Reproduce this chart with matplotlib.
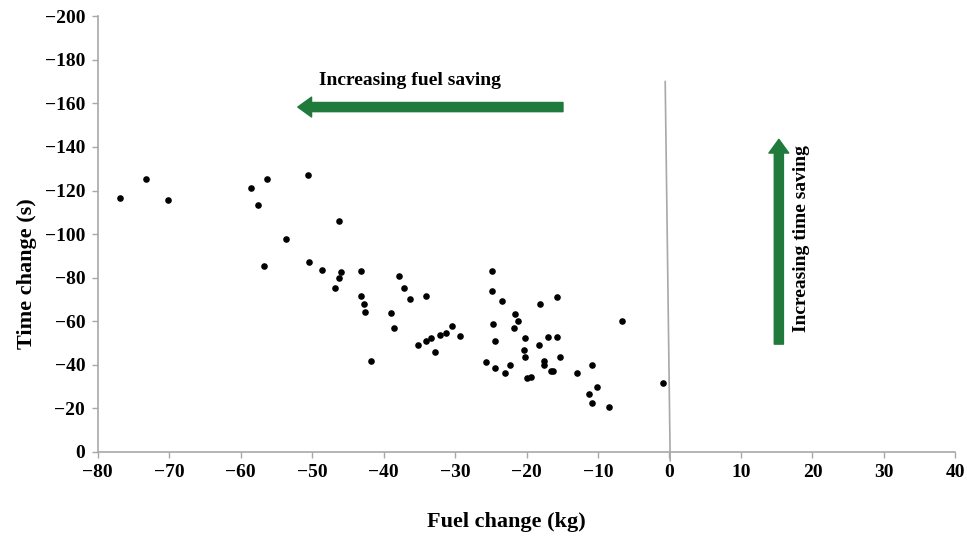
import matplotlib.pyplot as plt
import numpy as np

# fuel change (kg) vs time change (s)
fuel_change = [
    -76.9, -73.3, -70.2, -58.6, -56.3, -57.6, -50.6, -46.3, -53.7, -56.7,
    -50.4, -48.6, -46.0, -46.2, -46.8, -43.2, -43.2, -42.8, -42.6, -41.7,
    -39.0, -38.6, -37.8, -37.1, -36.3, -34.1, -35.2, -34.1, -33.4, -32.8,
    -32.1, -31.2, -30.4, -29.3, -24.9, -24.9, -23.4, -24.7, -24.4, -25.7,
    -24.4, -23.0, -22.3, -21.6, -21.2, -21.7, -20.2, -20.4, -20.2, -19.9,
    -19.4, -18.1, -15.7, -18.3, -17.0, -15.7, -17.5, -17.5, -16.6, -16.3,
    -15.3, -12.9, -10.9, -10.1, -11.2, -10.8, -8.5, -6.6, -0.9,
]
time_change = [
    -116.4, -125.4, -115.6, -121.1, -125.4, -113.3, -127.2, -106.1, -97.6, -85.5,
    -87.3, -83.6, -82.4, -80.0, -75.1, -83.0, -71.6, -67.9, -64.2, -41.7,
    -63.6, -56.9, -80.6, -75.1, -70.3, -71.6, -48.9, -50.9, -52.2, -46.1,
    -53.9, -54.5, -57.6, -53.2, -83.0, -73.9, -69.1, -58.7, -51.1, -41.3,
    -38.4, -36.4, -40.0, -63.2, -60.0, -56.9, -52.2, -46.8, -43.7, -33.9,
    -34.4, -68.0, -71.0, -49.1, -52.6, -52.6, -41.7, -39.9, -37.0, -37.0,
    -43.6, -36.4, -40.0, -29.7, -26.6, -22.5, -20.6, -60.1, -31.5,
]

x_ticks = list(range(-80, 41, 10))
y_ticks = list(range(0, -201, -20))

green = "#1f7a3c"
gray = "#a8a8a8"
serif = "Liberation Serif"

fig = plt.figure(figsize=(9.67, 5.4), dpi=100)
ax = fig.add_axes([0.101, 0.163, 0.887, 0.807])

ax.scatter(fuel_change, time_change, s=14, color="black", zorder=3)

# zero fuel-change divider
ax.plot([-0.6, 0.1], [-170, 4], color=gray, lw=1.2, clip_on=False)

ax.set_xlim(-80, 40)
ax.set_ylim(0, -200)
ax.set_xticks(x_ticks)
ax.set_yticks(y_ticks)

for side in ["top", "right"]:
    ax.spines[side].set_visible(False)
for side in ["left", "bottom"]:
    ax.spines[side].set_color(gray)
    ax.spines[side].set_linewidth(1.2)

ax.tick_params(direction="out", length=4, color=gray, width=1, pad=5)
for lab in ax.get_xticklabels() + ax.get_yticklabels():
    lab.set_fontfamily(serif)
    lab.set_fontweight("bold")
    lab.set_fontsize(14)

ax.set_xlabel("Fuel change (kg)", fontfamily=serif, fontweight="bold", fontsize=16)
ax.set_ylabel("Time change (s)", fontfamily=serif, fontweight="bold", fontsize=16)
ax.xaxis.set_label_coords(0.476, -0.138)
ax.yaxis.set_label_coords(-0.071, 0.41)

# --- direction arrows ---
arrow_style = "simple,tail_width=0.6,head_width=1.3,head_length=0.9"
ax.annotate("", xy=(-52.0, -158.3), xytext=(-14.9, -158.3),
            arrowprops=dict(arrowstyle=arrow_style, color=green,
                            mutation_scale=11, shrinkA=0, shrinkB=0))
ax.text(-36.3, -170.6, "Increasing fuel saving", ha="center", va="center",
        fontfamily=serif, fontweight="bold", fontsize=14)

ax.annotate("", xy=(15.3, -143.5), xytext=(15.3, -49.5),
            arrowprops=dict(arrowstyle=arrow_style, color=green,
                            mutation_scale=11, shrinkA=0, shrinkB=0))
ax.text(18.4, -98, "Increasing time saving", ha="center", va="center",
        rotation=90, fontfamily=serif, fontweight="bold", fontsize=14)

fig.savefig("out.png", dpi=100)
